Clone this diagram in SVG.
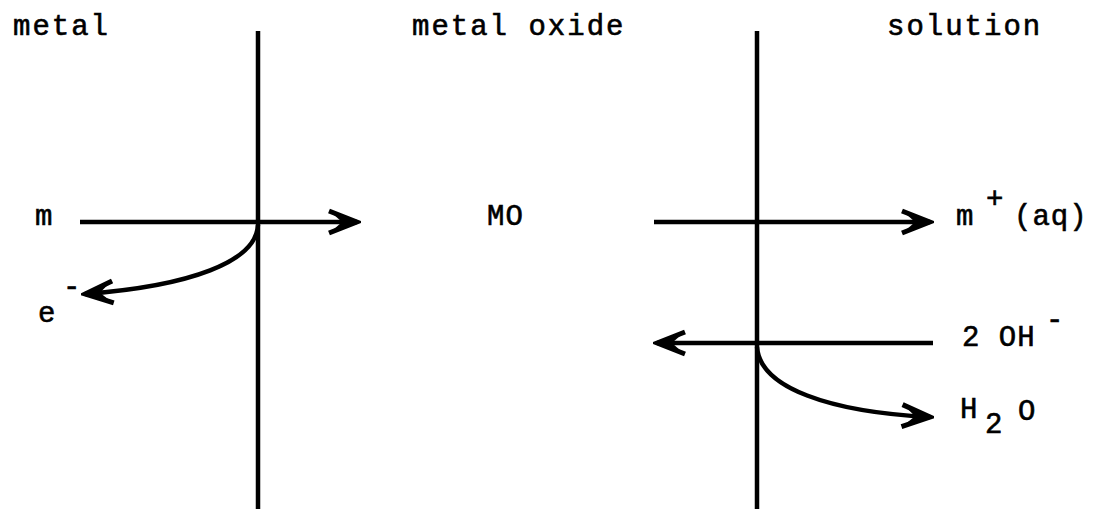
<svg xmlns="http://www.w3.org/2000/svg" width="1094" height="509" viewBox="0 0 1094 509">
<style>
  .t { font-family: "Liberation Mono", "DejaVu Sans Mono", monospace; font-size: 29px; letter-spacing: 2px; fill: #000; stroke: #000; stroke-width: 0.6; }
  .tn { letter-spacing: 1px; }
  .ln { stroke: #000; stroke-width: 4.5; fill: none; stroke-linecap: butt; }
</style>
<defs>
  <marker id="ah" markerUnits="userSpaceOnUse" viewBox="-34 -15 38 30" refX="0" refY="0" markerWidth="38" markerHeight="30" orient="auto">
    <path d="M-28,-11 L0,0 L-28,11" fill="none" stroke="#000" stroke-width="5" stroke-linejoin="miter"/>
    <polygon points="0,0 -24,-8 -15,0 -24,8" fill="#000"/>
  </marker>
</defs>
<rect width="1094" height="509" fill="#fff"/>
<g id="boundaries">
  <line class="ln" x1="258" y1="31" x2="258" y2="509"/>
  <line class="ln" x1="757" y1="31" x2="757" y2="509"/>
</g>
<g id="labels">
  <g id="metal"><text class="t" x="13" y="35">metal</text></g>
  <g id="metal-oxide"><text class="t" x="412" y="35">metal oxide</text></g>
  <g id="solution"><text class="t" x="887" y="35">solution</text></g>
</g>
<g id="node-m"><text class="t" x="35" y="225">m</text></g>
<g id="node-e"><text class="t" x="38" y="322">e</text><text class="t" x="63" y="296">-</text></g>
<g id="node-MO"><text class="t tn" x="487" y="225">MO</text></g>
<g id="node-mplus"><text class="t" x="956" y="225">m</text><text class="t" x="986" y="208">+</text><text class="t tn" x="1014" y="225">(aq)</text></g>
<g id="node-OH"><text class="t tn" x="962" y="346">2 OH</text><text class="t" x="1046" y="329">-</text></g>
<g id="node-H2O"><text class="t" x="960" y="418">H</text><text class="t" x="985" y="433">2</text><text class="t" x="1018" y="420">O</text></g>
<g id="connectors">
  <line class="ln" x1="80" y1="222" x2="357" y2="222" marker-end="url(#ah)"/>
  <path class="ln" d="M258,225 C256,262 190,286 85,294" marker-end="url(#ah)"/>
  <line class="ln" x1="654" y1="222" x2="930" y2="222" marker-end="url(#ah)"/>
  <line class="ln" x1="933" y1="343" x2="657" y2="343" marker-end="url(#ah)"/>
  <path class="ln" d="M757,347 C760,388 830,412 930,417" marker-end="url(#ah)"/>
</g>
</svg>
